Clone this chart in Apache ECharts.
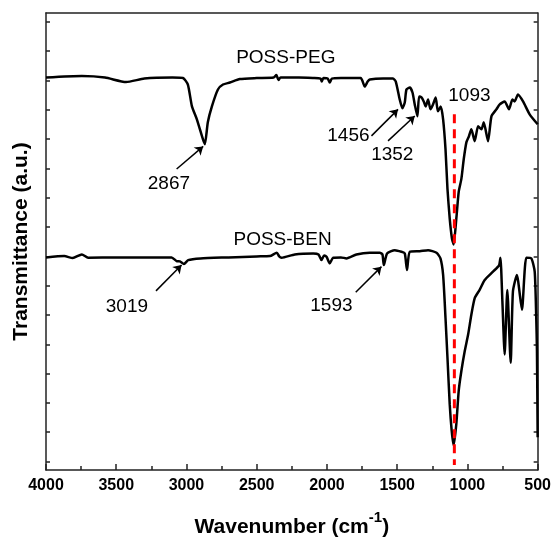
<!DOCTYPE html>
<html>
<head>
<meta charset="utf-8">
<script src="https://cdn.jsdelivr.net/npm/echarts@6/dist/echarts.min.js"></script>
<style>html,body{margin:0;padding:0;background:#fff}#c{width:554px;height:543px}</style>
</head>
<body>
<div id="c"></div>
<script>
// [wavenumber (cm-1), transmittance (a.u.)]
var possPeg = [
[4000,395],[3745,396.5],[3580,395],[3430,390.5],[3300,394],[3100,395],[3025,394.5],[2990,388],
[2961,366],[2926,353],[2883,333],[2869,328],[2848,350],[2819,366],[2776,383],[2740,388],[2691,390],
[2620,393.5],[2500,394.5],[2380,395],[2360,397.5],[2345,392.5],[2330,395],[2200,395],[2100,394.5],
[2045,394],[2037,391],[2025,394.5],[1995,394],[1980,390],[1965,394],[1900,394.5],[1760,394.5],
[1731,386],[1710,391],[1695,393],[1600,394],[1530,394],[1510,391],[1482,373],[1463,364],[1446,370],
[1434,383],[1410,385],[1391,380],[1375,368],[1356,356],[1344,376],[1327,375],[1311,371],[1297,366],
[1280,373],[1263,363],[1245,368],[1226,375],[1210,361],[1190,366],[1173,353],[1156,323],[1142,283],
[1126,253],[1110,233],[1098,227],[1079,253],[1062,280],[1043,293],[1026,313],[1007,330],[989,336],
[972,343],[948,331],[924,346],[900,343],[884,350],[853,331],[829,356],[794,363],[770,368],[735,371],
[704,363],[680,373],[664,371],[640,378],[604,371],[557,358],[500,348]
];
var possBen = [
[4000,214],[3870,215.3],[3810,213.3],[3745,217],[3700,213.7],[3500,214],[3300,214],[3106,214],
[3070,210.3],[3047,210],[3018,207.3],[2988,211.3],[2900,213],[2700,214],[2500,215],[2406,215.3],
[2357,218.7],[2340,215],[2323,213.7],[2229,217],[2098,218],[2060,217],[2039,211.3],[2020,216],
[2003,214.7],[1980,208],[1956,213.7],[1900,214],[1861,213],[1790,217],[1695,218.7],[1624,218.7],
[1605,217],[1595,206.3],[1572,218],[1517,221.3],[1470,219.7],[1446,218],[1430,201.3],[1410,219.7],
[1339,220.3],[1280,221.3],[1220,218.7],[1192,213],[1173,196.3],[1156,153],[1142,113],[1126,66.3],
[1112,39.7],[1098,24.7],[1079,46.3],[1062,79.7],[1043,99.7],[1019,119.7],[995,136.3],[972,156.3],
[948,173],[913,181.3],[877,191.3],[818,199.7],[775,206],[765,213.7],[751,169.7],[735,116.3],
[716,181.3],[692,108],[676,179.7],[648,196.3],[612,161.3],[581,213.7],[545,213],[521,199.7],
[510,153],[505,120],[500,33]
];
var refLine = [[1093,358],[1093,5]];
var labelNames = ['POSS-PEG','POSS-BEN','2867','1456','1352','1093','3019','1593'];
var labelPos = [[2293,414.5],[2316,231.5],[3125,288],[1847,336.3],[1535,317],[986,376.3],[3424,164.2],[1968,165.5]];
var arrows = [
[[3070,303],[2881,325.7]],
[[1683,336.3],[1494,363]],
[[1565,331.3],[1375,356.3]],
[[3217,180.3],[3035,206.3]],
[[1795,179],[1612,204.7]]
];
var xTicks = [4000,3500,3000,2500,2000,1500,1000,500];
var yTicks = [8.5,38,67.5,97,126.5,156,185.5,215,244.5,274,303.5,333,362.5,392,421.5,451];

var chart = echarts.init(document.getElementById('c'));
var axisColor = '#222';
var FONT = 'Liberation Sans, Arial, sans-serif';
chart.setOption({
  animation: false,
  grid: {left: 46, right: 16, top: 13, bottom: 70},
  xAxis: [{
    type: 'value', min: 500, max: 4000, inverse: true, interval: 500,
    position: 'bottom',
    axisLine: {lineStyle: {color: axisColor, width: 1.5}},
    axisTick: {inside: true, length: 6, lineStyle: {color: axisColor, width: 1.5}},
    minorTick: {show: true, splitNumber: 2, length: 4, lineStyle: {color: axisColor, width: 1.5}},
    splitLine: {show: false},
    axisLabel: {customValues: xTicks, formatter: function (v) { return String(v); },
      color: '#000', fontWeight: 'bold', fontSize: 16, fontFamily: FONT, margin: 8},
    name: '{a|Wavenumber (cm}{s|-1}{a|)}',
    nameLocation: 'middle', nameGap: 40,
    nameTextStyle: {
      rich: {
        a: {fontSize: 21, fontWeight: 'bold', fontFamily: FONT, color: '#000', lineHeight: 28, verticalAlign: 'bottom'},
        s: {fontSize: 15, fontWeight: 'bold', fontFamily: FONT, color: '#000', lineHeight: 28, verticalAlign: 'top'}
      }
    }
  }, {
    type: 'value', min: 500, max: 4000, inverse: true, position: 'top',
    axisLine: {show: true, onZero: false, lineStyle: {color: axisColor, width: 1.5}},
    axisTick: {show: false}, axisLabel: {show: false}, splitLine: {show: false}
  }],
  yAxis: [{
    type: 'value', min: 0, max: 460, position: 'left',
    axisLine: {show: true, onZero: false, lineStyle: {color: axisColor, width: 1.5}},
    axisTick: {show: true, inside: true, length: 4, customValues: yTicks, lineStyle: {color: axisColor, width: 1.5}},
    axisLabel: {show: false}, splitLine: {show: false},
    name: 'Transmittance (a.u.)', nameLocation: 'middle', nameGap: 14,
    nameTextStyle: {fontSize: 21, fontWeight: 'bold', fontFamily: FONT, color: '#000'}
  }, {
    type: 'value', min: 0, max: 460, position: 'right',
    axisLine: {show: true, onZero: false, lineStyle: {color: axisColor, width: 1.5}},
    axisTick: {show: true, inside: true, length: 4, customValues: yTicks, lineStyle: {color: axisColor, width: 1.5}},
    axisLabel: {show: false}, splitLine: {show: false}
  }],
  series: [
    {type: 'line', data: possPeg, showSymbol: false, smooth: 0.2, lineStyle: {color: '#000', width: 2.5}, z: 3},
    {type: 'line', data: possBen, showSymbol: false, smooth: 0.2, lineStyle: {color: '#000', width: 2.5}, z: 3},
    {type: 'line', data: refLine, showSymbol: false, lineStyle: {color: '#ff0000', width: 3, type: [9, 6]}, z: 4},
    {type: 'lines', coordinateSystem: 'cartesian2d', symbol: ['none', 'arrow'], symbolSize: 8,
     lineStyle: {color: '#000', width: 1.5, opacity: 1},
     data: arrows.map(function (a) { return {coords: a}; }), z: 5},
    {type: 'scatter', symbolSize: 0, itemStyle: {opacity: 1},
     data: labelPos.map(function (p, i) { return {value: p, name: labelNames[i]}; }),
     label: {show: true, position: 'inside', formatter: '{b}', color: '#000', textBorderWidth: 0, fontSize: 19, fontFamily: FONT},
     z: 6}
  ]
});
</script>
</body>
</html>
